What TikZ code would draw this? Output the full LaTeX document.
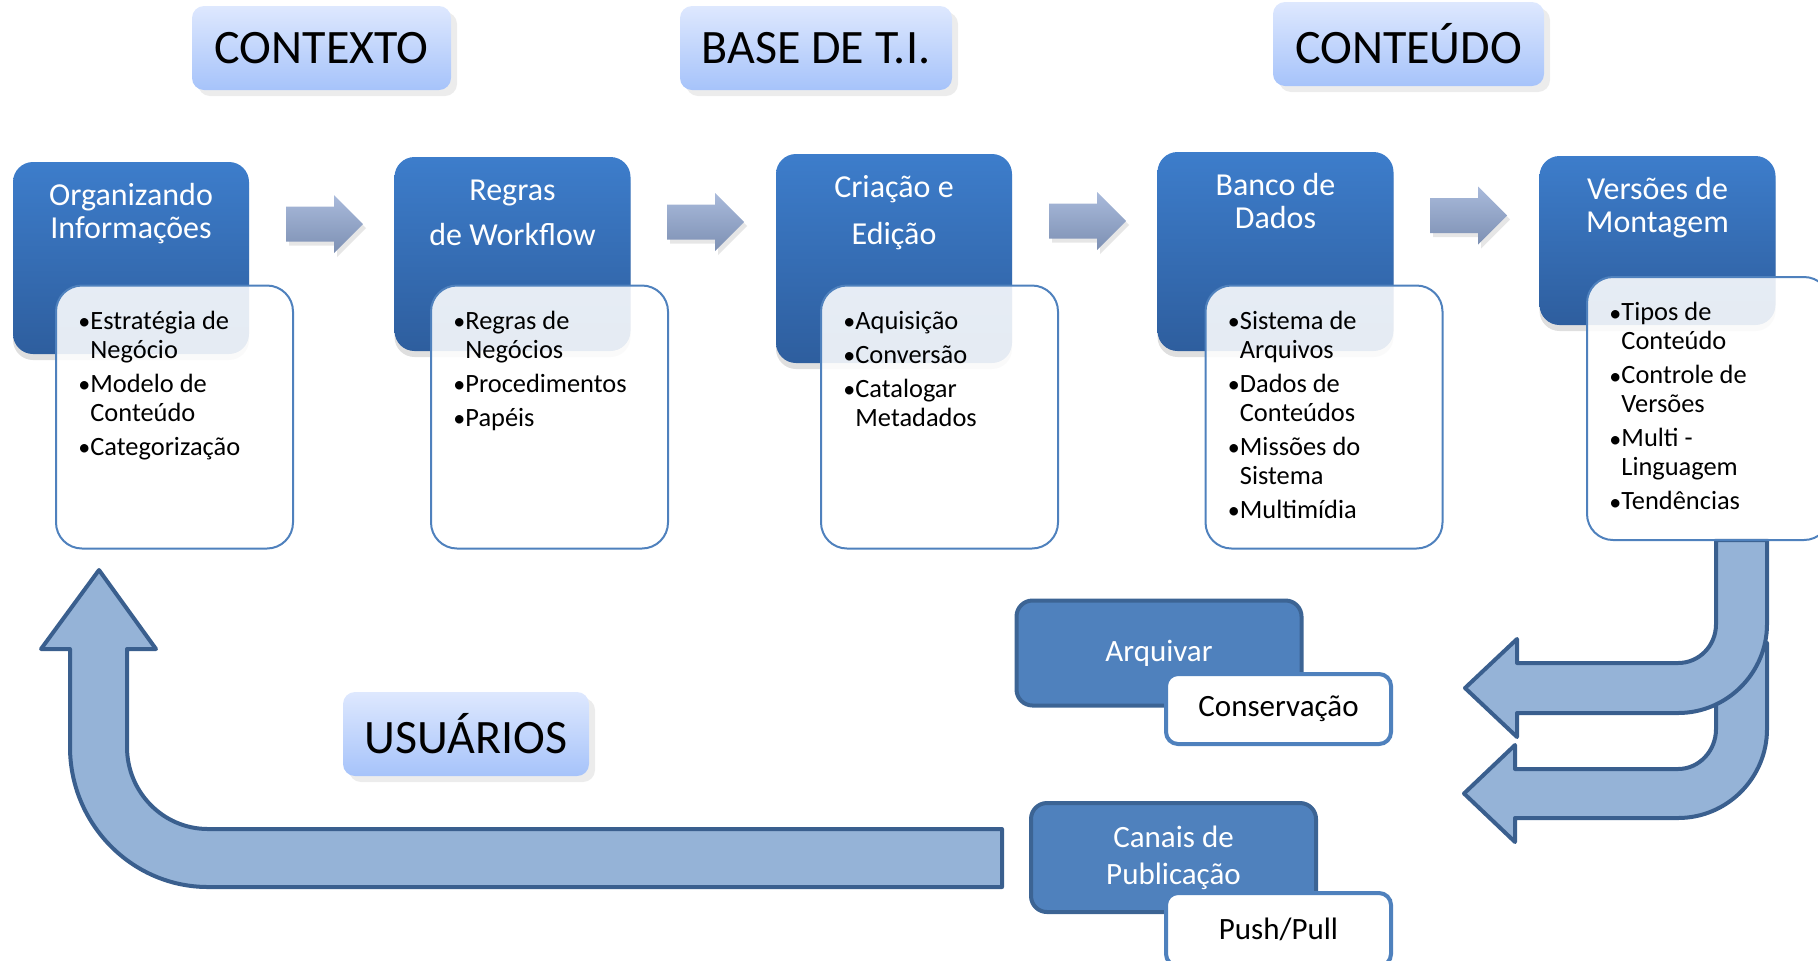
\documentclass[tikz,border=0pt]{standalone}
\usepackage{fontspec}
\setmainfont{Carlito}
\usepackage{xcolor}
\usepackage{tikz}
\usetikzlibrary{positioning,shadows}

\definecolor{stageTop}{HTML}{3D7DCB}
\definecolor{stageBot}{HTML}{2E5E9E}
\definecolor{listLine}{HTML}{4F81BD}
\definecolor{headTop}{HTML}{DEE8FE}
\definecolor{headBot}{HTML}{A6C3FA}
\definecolor{nextTop}{HTML}{A9BADB}
\definecolor{nextBot}{HTML}{7D90B3}
\definecolor{bendFill}{HTML}{95B3D7}
\definecolor{bendLine}{HTML}{3A5F8E}
\definecolor{outFill}{HTML}{4F81BD}
\definecolor{outLine}{HTML}{3C6494}

\newcommand{\bul}{\makebox[6pt][l]{\raisebox{-0.3pt}{\large\textbullet}}}
\newcommand{\ind}{\hspace*{6pt}}

\begin{document}
\begin{tikzpicture}[
    x=0.5pt, y=-0.5pt,
    heading/.style = {rounded corners=6pt, top color=headTop, bottom color=headBot, minimum width=#1, minimum height=42pt,
        font=\fontsize{24}{28}\selectfont, drop shadow={opacity=0.15, shadow xshift=3pt, shadow yshift=-3pt}},
    stagebox/.style = {rounded corners=10pt, top color=stageTop, bottom color=stageBot, minimum width=118pt,
        drop shadow={opacity=0.25, shadow xshift=0pt, shadow yshift=-3pt}},
    stagetitle/.style = {text=white, align=center, inner sep=0pt, font=\fontsize{16}{16.5}\selectfont},
    listbox/.style = {draw=listLine, line width=1pt, rounded corners=13pt, fill=white, fill opacity=0.88,
        minimum width=118.5pt, minimum height=131.5pt},
    listtext/.style = {align=left, inner sep=0pt, font=\fontsize{13.2}{14.5}\selectfont},
    nextarrow/.style = {top color=nextTop, bottom color=nextBot,
        drop shadow={opacity=0.2, shadow xshift=1.5pt, shadow yshift=-2pt}},
    bendarrow/.style = {fill=bendFill, draw=bendLine, line width=2pt, line join=round},
    outbox/.style = {rounded corners=8pt, fill=outFill, draw=outLine, line width=2pt, text=white, align=center,
        minimum width=142.5pt, font=\fontsize{15.5}{18.5}\selectfont},
    outtag/.style = {rounded corners=6pt, fill=white, draw=listLine, line width=2pt,
        minimum width=112.5pt, font=\fontsize{15.5}{18}\selectfont}
]
\useasboundingbox (0,0) rectangle (1818,960);
\clip (0,0) rectangle (1818,960);

\node (ctx) [heading=129.5pt] at (321.5,48) {CONTEXTO};
\node (base) [heading=136pt] at (816,48) {BASE DE T.I.};
\node (cont) [heading=135.5pt] at (1408.5,44) {CONTEÚDO};
\node (usr) [heading=123pt] at (466,734) {USUÁRIOS};

\foreach \x/\y in {286/224, 667/222, 1049/221, 1430/215.5}
    \path[nextarrow] (\x,\y-17.5) -- ++(48,0) -- ++(0,-11.5) -- ++(29,29) -- ++(-29,29) -- ++(0,-11.5) -- ++(-48,0) -- cycle;

\draw[bendarrow] (99,570) -- (156,649) -- (127,649) -- (127,747)
    .. controls (127,792) and (163,829) .. (208,829) -- (1002,829) -- (1002,887) -- (208,887)
    .. controls (132,887) and (70,824) .. (70,747) -- (70,649) -- (41,649) -- cycle;
\draw[bendarrow] (1716,643) -- (1716,729) .. controls (1716,751) and (1699,769) .. (1678,769)
    -- (1515,769) -- (1515,745) -- (1464,793.5) -- (1515,842) -- (1515,818) -- (1678,818)
    .. controls (1727,818) and (1767,778) .. (1767,729) -- (1767,643) -- cycle;
\draw[bendarrow] (1716,540) -- (1716,624) .. controls (1716,646) and (1699,663) .. (1678,663)
    -- (1517,663) -- (1517,639) -- (1465,688) -- (1517,737) -- (1517,713) -- (1678,713)
    .. controls (1727,713) and (1767,673) .. (1767,624) -- (1767,540) -- cycle;

\node (s1) [stagebox, minimum height=96pt] at (131,258) {};
\node (s2) [stagebox, minimum height=97pt] at (512.5,254) {};
\node (s3) [stagebox, minimum height=104.5pt] at (894,258.5) {};
\node (s4) [stagebox, minimum height=99.5pt] at (1275.5,251.5) {};
\node (s5) [stagebox, minimum height=84.5pt] at (1657.5,240.5) {};

\node (t1) [stagetitle, below=10pt of s1.north] {\strut Organizando\\Informações};
\node (t2) [stagetitle, below=10pt of s2.north] {\strut Regras\\[6pt]de Workflow};
\node (t3) [stagetitle, below=10pt of s3.north] {\strut Criação e\\[7pt]Edição};
\node (t4) [stagetitle, below=10pt of s4.north] {\strut Banco de\\Dados};
\node (t5) [stagetitle, below=10pt of s5.north] {\strut Versões de\\Montagem};

\node (d1) [listbox] at (174.5,417) {};
\node (d2) [listbox] at (549.5,417) {};
\node (d3) [listbox] at (939.5,417) {};
\node (d4) [listbox] at (1324,417) {};
\node (d5) [listbox, minimum width=121.5pt] at (1708.5,408.5) {};

\node (l1) [listtext, below right=12pt and 11.5pt of d1.north west]
    {\strut\bul Estratégia de\\\ind Negócio\\[2.5pt]\bul Modelo de\\\ind Conteúdo\\[2.5pt]\bul Categorização};
\node (l2) [listtext, below right=12pt and 11.5pt of d2.north west]
    {\strut\bul Regras de\\\ind Negócios\\[2.5pt]\bul Procedimentos\\[2.5pt]\bul Papéis};
\node (l3) [listtext, below right=12pt and 11.5pt of d3.north west]
    {\strut\bul Aquisição\\[2.5pt]\bul Conversão\\[2.5pt]\bul Catalogar\\\ind Metadados};
\node (l4) [listtext, below right=12pt and 11.5pt of d4.north west]
    {\strut\bul Sistema de\\\ind Arquivos\\[2.5pt]\bul Dados de\\\ind Conteúdos\\[2.5pt]\bul Missões do\\\ind Sistema\\[2.5pt]\bul Multimídia};
\node (l5) [listtext, below right=12pt and 11.5pt of d5.north west]
    {\strut\bul Tipos de\\\ind Conteúdo\\[2.5pt]\bul Controle de\\\ind Versões\\[2.5pt]\bul Multi -\\\ind Linguagem\\[2.5pt]\bul Tendências};

\node (arq) [outbox, minimum height=52.5pt] at (1159,653) {Arquivar};
\node (cons) [outtag, minimum height=35pt] at (1278.5,709) {Conservação};
\node (pub) [outbox, minimum height=54.5pt] at (1173.5,857.5) {Canais de\\Publicação};
\node (push) [outtag, minimum height=36.5pt] at (1278.5,929.5) {Push/Pull};
\end{tikzpicture}
\end{document}
